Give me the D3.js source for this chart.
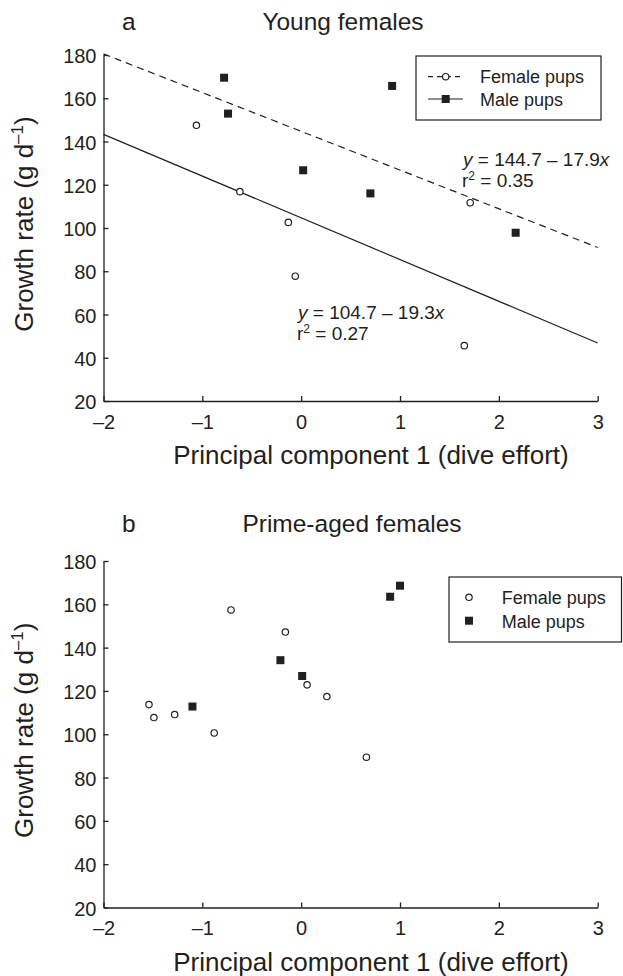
<!DOCTYPE html>
<html>
<head>
<meta charset="utf-8">
<script src="https://cdn.jsdelivr.net/npm/d3@7"></script>
<style>
  body { margin: 0; background: #fff; }
  svg text { font-family: "Liberation Sans", Arial, Helvetica, sans-serif; fill: #231f20; }
</style>
</head>
<body>
<div class="viz"></div>
<script>
// tick values shared by both panels
var xTicks = [-2, -1, 0, 1, 2, 3];
var yTicks = [20, 40, 60, 80, 100, 120, 140, 160, 180];

// panel a: young females
var youngFemalePups = [[-1.06, 147.5], [-0.62, 116.8], [-0.13, 102.6], [-0.06, 77.7], [1.71, 111.7], [1.65, 45.6]];
var youngMalePups = [[-0.78, 169.5], [-0.74, 152.9], [0.02, 126.7], [0.92, 165.7], [0.70, 116.0], [2.17, 97.8]];

// regression lines in panel a (dashed first, solid second)
var fitIntercept = [144.7, 104.7];
var fitSlope = [-17.9, -19.3];
var fitR2 = ["0.35", "0.27"];

// panel b: prime-aged females
var primeFemalePups = [[-1.54, 113.7], [-1.49, 107.7], [-1.28, 109.1], [-0.88, 100.6], [-0.71, 157.4], [-0.16, 147.2], [0.06, 122.8], [0.26, 117.4], [0.66, 89.4]];
var primeMalePups = [[-1.10, 112.8], [-0.21, 134.2], [0.01, 126.9], [0.90, 163.5], [1.00, 168.6]];

var ink = "#231f20";
var width = 623, height = 976;

var svg = d3.select(".viz")
  .append("svg")
    .attr("width", width)
    .attr("height", height);

var x = d3.scaleLinear().domain([-2, 3]).range([103.5, 597.7]);
var yA = d3.scaleLinear().domain([20, 180]).range([401, 55]);
var yB = d3.scaleLinear().domain([20, 180]).range([907.5, 561]);

// negative ticks use an en dash like the printed figure
var fmtX = function(d) { return d < 0 ? "\u2013" + Math.abs(d) : String(d); };

function drawAxes(y) {
  var bottom = y.range()[0];

  var gx = svg.append("g")
    .attr("transform", "translate(0," + bottom + ")")
    .call(d3.axisBottom(x).tickValues(xTicks).tickFormat(fmtX)
      .tickSizeInner(-5).tickSizeOuter(0).tickPadding(13.5));

  var gy = svg.append("g")
    .attr("transform", "translate(" + x.range()[0] + ",0)")
    .call(d3.axisLeft(y).tickValues(yTicks).tickSizeInner(-5).tickSizeOuter(0).tickPadding(7));

  [gx, gy].forEach(function(g) {
    g.select(".domain").attr("stroke", ink).attr("stroke-width", 1.3);
    g.selectAll(".tick line").attr("stroke", ink).attr("stroke-width", 1.3);
    g.selectAll(".tick text")
      .attr("fill", ink)
      .style("font-size", "20px")
      .style("font-family", null);
  });
  gy.selectAll(".tick text").attr("dy", "0.38em");

  // axis titles
  svg.append("text")
    .attr("x", 371)
    .attr("y", bottom + 63.3)
    .attr("text-anchor", "middle")
    .style("font-size", "26px")
    .text("Principal component 1 (dive effort)");

  var mid = (y.range()[0] + y.range()[1]) / 2 - 4;
  var yl = svg.append("text")
    .attr("transform", "translate(33," + mid + ") rotate(-90)")
    .attr("text-anchor", "middle")
    .style("font-size", "26px");
  yl.append("tspan").text("Growth rate (g d");
  yl.append("tspan").attr("dy", -10).style("font-size", "17px").text("\u20131");
  yl.append("tspan").attr("dy", 10).text(")");
}

function drawPoints(y, females, males) {
  svg.append("g").selectAll("rect")
    .data(males)
    .join("rect")
      .attr("x", function(d) { return x(d[0]) - 4; })
      .attr("y", function(d) { return y(d[1]) - 4; })
      .attr("width", 8)
      .attr("height", 8)
      .attr("fill", ink);

  svg.append("g").selectAll("circle")
    .data(females)
    .join("circle")
      .attr("cx", function(d) { return x(d[0]); })
      .attr("cy", function(d) { return y(d[1]); })
      .attr("r", 3.2)
      .attr("fill", "#fff")
      .attr("stroke", ink)
      .attr("stroke-width", 1.2);
}

function panelTitle(letter, title, baseline, titleX) {
  svg.append("text").attr("x", 122).attr("y", baseline).style("font-size", "24.5px").text(letter);
  svg.append("text").attr("x", titleX).attr("y", baseline).attr("text-anchor", "middle")
    .style("font-size", "24.5px").text(title);
}

function equation(i, ex, ey) {
  var t1 = svg.append("text").attr("x", ex).attr("y", ey).style("font-size", "19px");
  t1.append("tspan").style("font-style", "italic").text("y");
  t1.append("tspan").text(" = " + fitIntercept[i] + " \u2013 " + Math.abs(fitSlope[i]));
  t1.append("tspan").style("font-style", "italic").text("x");

  var t2 = svg.append("text").attr("x", ex - 1).attr("y", ey + 21).style("font-size", "19px");
  t2.append("tspan").text("r");
  t2.append("tspan").attr("dy", -7).style("font-size", "12px").text("2");
  t2.append("tspan").attr("dy", 7).text(" = " + fitR2[i]);
}

// ---------- panel a ----------
panelTitle("a", "Young females", 30, 343);
drawAxes(yA);

fitIntercept.forEach(function(b0, i) {
  var line = d3.line()
    .x(function(d) { return x(d); })
    .y(function(d) { return yA(b0 + fitSlope[i] * d); });
  svg.append("path")
    .datum(x.domain())
    .attr("d", line)
    .attr("fill", "none")
    .attr("stroke", ink)
    .attr("stroke-width", 1.2)
    .attr("stroke-dasharray", i == 0 ? "7,5" : null);
});

drawPoints(yA, youngFemalePups, youngMalePups);
equation(0, 463, 165.7);
equation(1, 298, 319);

// legend a
var legA = svg.append("g");
legA.append("rect").attr("x", 416).attr("y", 56).attr("width", 185).attr("height", 64)
  .attr("fill", "#fff").attr("stroke", ink).attr("stroke-width", 1.2);
legA.append("line").attr("x1", 428).attr("x2", 463).attr("y1", 76.7).attr("y2", 76.7)
  .attr("stroke", ink).attr("stroke-width", 1.2).attr("stroke-dasharray", "5,4");
legA.append("circle").attr("cx", 445.7).attr("cy", 76.7).attr("r", 3.2)
  .attr("fill", "#fff").attr("stroke", ink).attr("stroke-width", 1.2);
legA.append("line").attr("x1", 428).attr("x2", 463).attr("y1", 99).attr("y2", 99)
  .attr("stroke", ink).attr("stroke-width", 1.2);
legA.append("rect").attr("x", 441.7).attr("y", 95).attr("width", 8).attr("height", 8).attr("fill", ink);
legA.append("text").attr("x", 480).attr("y", 83.3).style("font-size", "18px").text("Female pups");
legA.append("text").attr("x", 480).attr("y", 106).style("font-size", "18px").text("Male pups");

// ---------- panel b ----------
panelTitle("b", "Prime-aged females", 531.5, 352);
drawAxes(yB);
drawPoints(yB, primeFemalePups, primeMalePups);

// legend b
var legB = svg.append("g");
legB.append("rect").attr("x", 449).attr("y", 577).attr("width", 172.5).attr("height", 65)
  .attr("fill", "#fff").attr("stroke", ink).attr("stroke-width", 1.2);
legB.append("circle").attr("cx", 469).attr("cy", 597.3).attr("r", 3.2)
  .attr("fill", "#fff").attr("stroke", ink).attr("stroke-width", 1.2);
legB.append("rect").attr("x", 465).attr("y", 616.7).attr("width", 8).attr("height", 8).attr("fill", ink);
legB.append("text").attr("x", 501.7).attr("y", 604).style("font-size", "18px").text("Female pups");
legB.append("text").attr("x", 501.7).attr("y", 628.3).style("font-size", "18px").text("Male pups");
</script>
</body>
</html>
